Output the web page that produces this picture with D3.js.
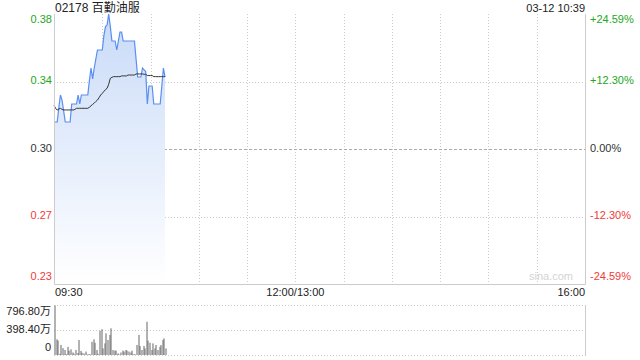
<!DOCTYPE html>
<html>
<head>
<meta charset="utf-8">
<script src="https://cdn.jsdelivr.net/npm/d3@7"></script>
<style>
  body { margin: 0; background: #fff; }
  text { font-family: "Liberation Sans", Arial, "Noto Sans CJK SC", sans-serif; }
</style>
</head>
<body>
<div id="chart"></div>
<script>
// minute chart, 02178 on 03-12, up to 10:39

const title = "02178 百勤油服"
const stamp = "03-12 10:39"
const prevClose = 0.305

// one value per minute from 09:30
const price = [0.320, 0.320, 0.320, 0.328, 0.335, 0.332, 0.326, 0.320, 0.320, 0.320,
    0.320, 0.330, 0.330, 0.330, 0.330, 0.335, 0.330, 0.335, 0.335, 0.335,
    0.335, 0.335, 0.343, 0.350, 0.344, 0.350, 0.355, 0.360, 0.360, 0.360,
    0.360, 0.368, 0.373, 0.374, 0.380, 0.373, 0.365, 0.365, 0.365, 0.360,
    0.365, 0.370, 0.370, 0.365, 0.365, 0.365, 0.365, 0.365, 0.365, 0.365,
    0.365, 0.355, 0.345, 0.345, 0.345, 0.350, 0.349, 0.348, 0.330, 0.340,
    0.340, 0.340, 0.330, 0.330, 0.330, 0.330, 0.330, 0.340, 0.350, 0.345]

const avgPrice = [0.3294, 0.3275, 0.3267, 0.3272, 0.3276, 0.3270, 0.3267, 0.3267, 0.3267, 0.3267,
    0.3267, 0.3267, 0.3267, 0.3270, 0.3276, 0.3276, 0.3276, 0.3276, 0.3276, 0.3276,
    0.3276, 0.3276, 0.3282, 0.3290, 0.3298, 0.3305, 0.3314, 0.3322, 0.3335, 0.3350,
    0.3359, 0.3370, 0.3380, 0.3387, 0.3410, 0.3443, 0.3448, 0.3452, 0.3452, 0.3452,
    0.3452, 0.3452, 0.3456, 0.3456, 0.3456, 0.3456, 0.3461, 0.3461, 0.3461, 0.3461,
    0.3461, 0.3467, 0.3467, 0.3467, 0.3467, 0.3467, 0.3465, 0.3465, 0.3458, 0.3458,
    0.3458, 0.3458, 0.3452, 0.3452, 0.3452, 0.3452, 0.3452, 0.3452, 0.3452, 0.3452]

// volume, 万
const volume = [790, 250, 230, 20, 160, 110, 80, 15, 130, 70,
    90, 40, 20, 80, 30, 240, 65, 35, 25, 55,
    10, 15, 10, 210, 250, 195, 80, 20, 387, 410,
    105, 185, 345, 240, 320, 425, 80, 70, 70, 25,
    10, 40, 70, 55, 80, 70, 55, 40, 70, 15,
    10, 160, 320, 145, 80, 145, 105, 530, 230, 195,
    80, 185, 105, 160, 80, 130, 160, 240, 265, 105]

const priceLabels = ["0.38", "0.34", "0.30", "0.27", "0.23"]
const pctLabels = ["+24.59%", "+12.30%", "0.00%", "-12.30%", "-24.59%"]
const volLabels = ["796.80万", "398.40万", "0"]
const timeLabels = ["09:30", "12:00/13:00", "16:00"]

const width = 640, height = 360
const pLeft = 54, pRight = 585
const pTop = 14, pBottom = 284
const vTop = 305, vBottom = 355
const totalMinutes = 330
const volMax = 796.8

const green = "#22a822", red = "#f03a3a", grey = "#ccc"

const svg = d3.select("#chart").append("svg")
    .attr("width", width)
    .attr("height", height)

const x = d3.scaleLinear().domain([0, totalMinutes]).range([pLeft, pRight])
const y = d3.scaleLinear().domain([prevClose - 0.075, prevClose + 0.075]).range([pBottom, pTop])
const yv = d3.scaleLinear().domain([0, volMax]).range([vBottom, vTop])

// gradient under the price line
const grad = svg.append("defs").append("linearGradient")
    .attr("id", "fillGrad")
    .attr("gradientUnits", "userSpaceOnUse")
    .attr("x1", 0).attr("y1", pTop).attr("x2", 0).attr("y2", pBottom)
grad.append("stop").attr("offset", "0%").attr("stop-color", "#c9dbf8")
grad.append("stop").attr("offset", "100%").attr("stop-color", "#ffffff")

// grid
const grid = svg.append("g")
d3.range(30, totalMinutes, 30).forEach(m => {
    grid.append("line")
        .attr("x1", Math.round(x(m)) + 0.5).attr("x2", Math.round(x(m)) + 0.5)
        .attr("y1", pTop).attr("y2", pBottom)
        .attr("stroke", grey).attr("stroke-dasharray", "1,2")
})
const levels = d3.range(5).map(k => pTop + k * (pBottom - pTop) / 4)
levels.forEach((ly, k) => {
    if (k === 0 || k === 4) return
    grid.append("line")
        .attr("x1", pLeft).attr("x2", pRight)
        .attr("y1", Math.round(ly) + 0.5).attr("y2", Math.round(ly) + 0.5)
        .attr("stroke", k === 2 ? "#aaa" : grey)
        .attr("stroke-dasharray", k === 2 ? "3,2" : "1,2")
})

// area and lines
const area = d3.area()
    .x((d, i) => x(i))
    .y0(pBottom)
    .y1(d => y(d))
svg.append("path")
    .datum(price)
    .attr("d", area)
    .attr("fill", "url(#fillGrad)")

svg.append("path")
    .datum(price)
    .attr("d", d3.line().x((d, i) => x(i)).y(d => y(d)))
    .attr("fill", "none")
    .attr("stroke", "#5a8ef0")
    .attr("stroke-width", 1.2)

svg.append("path")
    .datum(avgPrice)
    .attr("d", d3.line().x((d, i) => x(i)).y(d => y(d)))
    .attr("fill", "none")
    .attr("stroke", "#333")
    .attr("stroke-width", 1)

// frame
svg.append("path")
    .attr("d", `M${pLeft + 0.5},${pTop}V${pBottom + 0.5}H${pRight + 0.5}V${pTop}`)
    .attr("fill", "none")
    .attr("stroke", grey)

svg.append("text")
    .attr("x", 573).attr("y", 280)
    .attr("text-anchor", "end")
    .attr("fill", "#d4d4d4")
    .style("font-size", "11px")
    .text("sina.com")

// axis labels
const labelY = [pTop + 6, levels[1], levels[2], levels[3], pBottom - 7]
const labelColor = [green, green, "#333", red, red]
priceLabels.forEach((t, k) => {
    svg.append("text")
        .attr("x", 52).attr("y", labelY[k])
        .attr("text-anchor", "end")
        .attr("dominant-baseline", "middle")
        .attr("fill", labelColor[k])
        .style("font-size", "11px")
        .text(t)
    svg.append("text")
        .attr("x", 590).attr("y", labelY[k])
        .attr("dominant-baseline", "middle")
        .attr("fill", labelColor[k])
        .style("font-size", "11px")
        .text(pctLabels[k])
})

const timeX = [x(0) + 1, x(150), pRight]
const timeAnchor = ["start", "middle", "end"]
timeLabels.forEach((t, k) => {
    svg.append("text")
        .attr("x", timeX[k]).attr("y", 293)
        .attr("text-anchor", timeAnchor[k])
        .attr("dominant-baseline", "middle")
        .attr("fill", "#222")
        .style("font-size", "11px")
        .text(t)
})

svg.append("text")
    .attr("x", pLeft + 1).attr("y", 12)
    .attr("fill", "#222")
    .style("font-size", "12px")
    .text(title)

svg.append("text")
    .attr("x", pRight).attr("y", 12)
    .attr("text-anchor", "end")
    .attr("fill", "#222")
    .style("font-size", "11px")
    .text(stamp)

// volume panel
const vLevels = [volMax, volMax / 2, 0]
vLevels.forEach(v => {
    svg.append("line")
        .attr("x1", pLeft).attr("x2", pRight)
        .attr("y1", Math.round(yv(v)) + 0.5).attr("y2", Math.round(yv(v)) + 0.5)
        .attr("stroke", grey).attr("stroke-dasharray", "1,2")
})
svg.append("line")
    .attr("x1", pRight + 0.5).attr("x2", pRight + 0.5)
    .attr("y1", vTop).attr("y2", vBottom + 1)
    .attr("stroke", grey)

svg.append("g").selectAll("rect")
    .data(volume)
    .enter()
    .append("rect")
    .attr("x", (d, i) => Math.round(x(i)) + 0.5)
    .attr("width", 1)
    .attr("y", d => yv(d))
    .attr("height", d => vBottom - yv(d))
    .attr("fill", "#666")

const vLabelY = [vTop + 7, yv(volMax / 2), vBottom - 7]
volLabels.forEach((t, k) => {
    svg.append("text")
        .attr("x", 51).attr("y", vLabelY[k])
        .attr("text-anchor", "end")
        .attr("dominant-baseline", "middle")
        .attr("fill", "#222")
        .style("font-size", "11px")
        .text(t)
})
</script>
</body>
</html>
